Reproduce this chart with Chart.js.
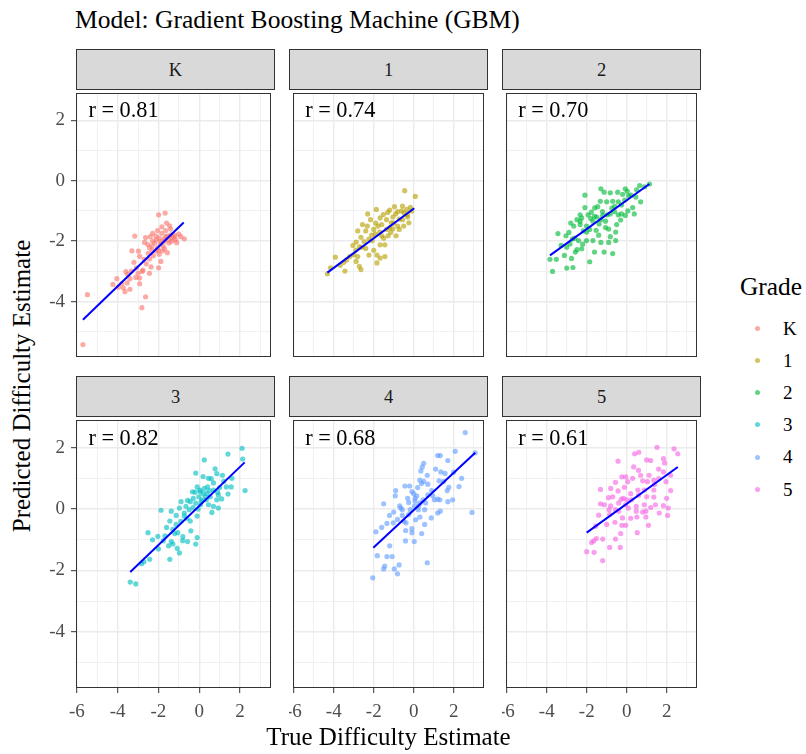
<!DOCTYPE html>
<html>
<head>
<meta charset="utf-8">
<script src="https://cdn.jsdelivr.net/npm/chart.js@4/dist/chart.umd.min.js"></script>
<style>
  body { margin: 0; background: #fff; width: 806px; height: 754px; position: relative; overflow: hidden;
         font-family: "Liberation Serif", "Times New Roman", serif; }
  canvas { position: absolute; }
  .t { position: absolute; white-space: nowrap; }
  .strip { position: absolute; box-sizing: border-box; border: 1px solid #333; background: #d9d9d9; }
  .dot { position: absolute; width: 5px; height: 5px; border-radius: 50%; }
</style>
</head>
<body>
<script>
// ---- data ----
const grades  = ['K', '1', '2', '3', '4', '5'];
const rLabels = ['r = 0.81', 'r = 0.74', 'r = 0.70', 'r = 0.82', 'r = 0.68', 'r = 0.61'];
const xTicks  = [-6, -5, -4, -3, -2, -1, 0, 1, 2, 3];
const yTicks  = [-5, -4, -3, -2, -1, 0, 1, 2];

const ptsK = [[-1.99,-1.13],[-1.67,-1.07],[-1.45,-1.49],[-0.73,-1.92],[-1.0,-1.77],[-3.16,-1.83],[-2.63,-1.88],[-2.28,-1.74],
  [-2.12,-1.83],[-1.83,-1.74],[-1.64,-1.85],[-1.32,-1.90],[-1.16,-1.95],[-1.48,-2.06],[-1.88,-2.01],[-2.52,-2.11],[-2.31,-2.16],
  [-2.04,-2.22],[-1.8,-2.32],[-1.56,-2.38],[-1.96,-2.43],[-2.25,-2.48],[-3.30,-2.32],[-2.98,-2.33],[-2.92,-2.50],[-2.44,-2.59],
  [-2.6,-2.75],[-2.36,-2.85],[-1.99,-2.88],[-1.88,-2.67],[-3.08,-2.88],[-2.76,-2.96],[-2.44,-3.06],[-3.59,-3.01],[-3.32,-2.99],
  [-3.0,-3.06],[-3.11,-3.2],[-2.92,-3.22],[-3.4,-3.24],[-4.04,-3.24],[-4.23,-3.43],[-3.96,-3.52],[-3.72,-3.54],[-3.53,-3.38],
  [-2.92,-3.41],[-3.40,-3.59],[-3.64,-3.67],[-2.63,-3.84],[-2.81,-4.2],[-5.48,-3.77],[-5.70,-5.42],[-2.18,-2.06],[-1.72,-1.93],
  [-1.4,-1.79],[-1.24,-1.86],[-1.96,-1.9],[-2.44,-2.22],[-1.77,-2.16],[-2.12,-2.32],[-1.64,-1.65],[-1.83,-1.53],[-1.56,-1.83],
  [-2.28,-2.0],[-2.68,-2.04],[-2.04,-1.65],[-2.1,-1.95],[-1.9,-2.1],[-1.7,-2.0],[-1.5,-1.95],[-1.35,-2.0],[-1.2,-1.8],
  [-1.1,-2.05],[-0.9,-1.85],[-2.0,-2.3],[-1.7,-2.25],[-2.3,-2.3],[-2.5,-2.4],[-2.7,-2.6],[-3.2,-2.7],[-3.5,-3.1],[-3.8,-3.4],
  [-2.8,-3.0],[-1.6,-1.4],[-1.4,-1.6],[-2.4,-1.85]];
const pts1 = [[-0.45,-0.33],[0.08,-0.52],[-1.87,-0.95],[-0.96,-0.86],[-0.56,-0.84],[-0.16,-0.88],[-1.2,-0.97],[-0.8,-1.02],
  [-0.48,-1.07],[-0.24,-1.39],[-1.68,-1.23],[-1.36,-1.29],[-1.04,-1.2],[-0.72,-1.27],[-1.6,-1.45],[-2.56,-1.45],[-2.32,-1.5],
  [-2.8,-1.66],[-2.4,-1.66],[-2.0,-1.61],[-1.36,-1.61],[-1.04,-1.59],[-0.72,-1.61],[-1.92,-1.77],[-1.6,-1.82],[-1.28,-1.82],
  [-0.88,-1.82],[-2.64,-1.87],[-2.24,-1.93],[-2.88,-2.03],[-2.48,-2.01],[-2.08,-1.98],[-1.68,-2.12],[-1.44,-2.12],[-3.04,-2.14],
  [-2.72,-2.19],[-2.4,-2.24],[-2.24,-2.46],[-1.84,-2.46],[-1.44,-2.51],[-1.68,-2.56],[-3.2,-2.51],[-2.8,-2.51],[-3.36,-2.62],
  [-2.88,-2.67],[-2.72,-2.83],[-1.84,-2.72],[-3.92,-2.53],[-2.64,-2.94],[-3.44,-2.99],[-4.16,-2.88],[-3.68,-2.8],[-1.12,-1.39],
  [-0.56,-1.29],[-0.32,-1.13],[-1.52,-1.12],[-2.16,-1.29],[-1.79,-1.5],[-1.15,-1.71],[-4.32,-3.08],[-0.9,-1.1],[-0.6,-1.0],
  [-0.35,-0.95],[-0.1,-1.0],[-1.3,-1.05],[-1.0,-1.4],[-0.8,-1.5],[-1.7,-1.7],[-2.1,-1.8],[-2.6,-2.2],[-2.9,-2.3],[-1.2,-1.55],
  [-0.5,-1.5],[-0.3,-1.2],[-1.9,-1.4],[-2.3,-1.1],[-3.0,-2.45],[-3.5,-2.7],[-2.0,-2.3],[-1.5,-1.9]];
const pts2 = [[1.14,-0.11],[0.65,-0.16],[-0.07,-0.27],[0.03,-0.35],[-1.29,-0.27],[-1.13,-0.38],[-0.82,-0.40],[-0.45,-0.38],
  [-2.09,-0.48],[-1.32,-0.68],[-0.70,-0.68],[-0.42,-0.70],[-0.26,-0.80],[0.3,-0.89],[0.06,-1.0],[0.38,-1.1],[-0.07,-1.15],
  [-0.42,-1.13],[-0.74,-0.91],[-0.82,-1.1],[-1.45,-0.86],[-2.09,-0.89],[-1.77,-1.04],[-1.21,-1.02],[-1.61,-1.18],[-1.29,-1.29],
  [-0.97,-1.13],[-2.33,-1.13],[-2.49,-1.29],[-2.25,-1.23],[-2.65,-1.5],[-2.33,-1.45],[-2.01,-1.5],[-1.69,-1.34],[-1.38,-1.43],
  [-1.06,-1.55],[-0.5,-1.45],[-1.85,-1.61],[-1.53,-1.64],[-2.17,-1.66],[-2.89,-1.71],[-3.44,-1.75],[-3.04,-1.82],[-2.72,-1.93],
  [-2.41,-1.98],[-2.01,-1.98],[-1.69,-1.98],[-1.29,-2.04],[-0.82,-1.85],[-0.9,-2.04],[-0.55,-1.98],[-3.28,-2.14],[-2.84,-2.09],
  [-2.49,-2.28],[-2.25,-2.25],[-2.57,-2.36],[-1.61,-2.36],[-1.13,-2.36],[-0.70,-2.41],[-3.12,-2.47],[-3.52,-2.6],[-2.76,-2.57],
  [-1.85,-2.68],[-3.84,-2.6],[-3.0,-2.89],[-2.69,-2.87],[-3.71,-3.0],[-1.93,-1.13],[-1.06,-1.34],[-0.61,-1.02],[-0.26,-1.1],
  [-2.33,-1.34],[-0.1,-0.64],[0.22,-0.48],[0.46,-0.54],[-1.6,-0.9],[-1.0,-0.7],[-0.6,-0.85],[0.1,-0.5],[0.5,-0.3],[0.9,-0.2],
  [-0.3,-1.3],[-1.8,-1.25],[-2.0,-1.7],[-1.4,-1.8],[-0.9,-1.6],[-2.6,-1.9],[-3.0,-2.2],[-2.2,-2.1],[-1.2,-1.15],[-0.2,-0.45],
  [0.7,-0.7],[-0.55,-1.7],[-1.5,-1.2],[-2.8,-1.4]];
const pts3 = [[2.1,1.98],[2.13,1.63],[2.25,0.6],[1.41,1.79],[0.25,1.6],[-0.17,1.17],[0.19,1.06],[0.78,1.31],[0.86,1.15],
  [1.14,1.1],[0.59,0.99],[-0.10,0.72],[0.25,0.67],[0.06,0.56],[0.38,0.51],[0.70,0.62],[1.33,0.72],[1.57,0.72],[1.41,0.49],
  [0.94,0.46],[0.54,0.4],[-0.02,0.4],[-0.29,0.35],[-0.57,0.28],[-0.44,0.24],[-0.17,0.19],[0.06,0.14],[0.46,0.14],[0.70,0.09],
  [0.94,0.03],[0.62,-0.11],[-0.89,0.24],[-0.65,0.09],[-0.49,-0.02],[-0.10,-0.23],[-0.97,0.03],[-1.87,-0.04],[-1.37,-0.07],
  [-1.13,-0.21],[-0.73,-0.23],[-0.44,-0.39],[-1.44,-0.39],[-1.13,-0.5],[-1.29,-0.66],[-0.41,-0.71],[-1.05,-0.77],[-2.51,-0.77],
  [-2.03,-0.89],[-1.68,-0.87],[-2.29,-1.0],[-1.76,-1.03],[-1.37,-1.06],[-1.29,-1.14],[-0.81,-1.03],[-0.57,-1.06],[-0.10,-0.93],
  [-0.17,-1.14],[-1.08,-1.28],[-0.97,-1.43],[-2.43,-1.64],[-1.44,-1.64],[-2.71,-1.72],[-2.83,-1.78],[-3.38,-2.38],[-3.11,-2.44],
  [0.03,0.62],[0.3,0.4],[0.14,0.3],[0.86,0.3],[-0.33,0.56],[-0.73,-0.13],[0.41,0.72],[1.10,0.33],[0.2,0.5],[0.5,0.6],
  [0.35,0.3],[0.1,0.25],[-0.3,0.05],[-0.6,-0.3],[-0.9,-0.4],[-1.2,-0.8],[-1.6,-0.6],[-2.0,-1.3],[1.0,0.7],[1.2,0.9],
  [0.7,0.85],[-0.05,0.0],[0.45,1.0],[-0.8,-0.9],[-1.5,-1.2],[1.6,1.0],[0.9,0.55],[-0.2,0.55]];
const pts4 = [[2.58,2.49],[2.08,1.88],[3.08,1.83],[1.2,1.74],[1.33,1.74],[1.71,1.58],[0.5,1.49],[0.43,1.37],[0.36,1.24],
  [0.68,1.1],[1.36,1.21],[1.57,1.16],[0.31,0.94],[0.39,0.83],[0.71,0.81],[1.27,0.92],[1.76,0.71],[1.68,0.6],[2.27,0.73],
  [-0.44,0.75],[-0.09,0.57],[0.15,0.43],[0.07,0.35],[0.47,0.3],[0.96,0.43],[1.2,0.32],[1.31,0.3],[1.95,0.3],[1.71,0.24],
  [-0.92,0.43],[-1.5,0.17],[-0.65,0.03],[-0.25,0.21],[0.04,0.09],[0.31,0.19],[0.55,-0.02],[1.2,-0.13],[1.33,-0.07],[2.92,-0.11],
  [0.88,-0.29],[0.31,-0.26],[-1.21,-0.21],[-1.02,-0.45],[-0.81,-0.34],[-0.57,-0.21],[-1.34,-0.47],[-0.49,-0.4],[-0.38,-0.45],
  [0.55,-0.5],[-0.09,-0.64],[-0.09,-0.77],[-1.89,-0.74],[-0.41,-1.04],[0.03,-1.06],[-1.82,-1.52],[-1.34,-1.55],[-1.08,-1.55],
  [-1.45,-1.86],[-1.5,-1.95],[-0.97,-1.95],[-0.73,-1.82],[-0.81,-2.11],[-2.05,-2.24],[0.68,-1.75],[0.07,0.25],[-0.17,-0.02],
  [0.23,-0.02],[-0.25,-0.18],[-0.57,-0.02],[1.04,0.3],[0.71,0.46],[0.0,0.5],[0.2,0.7],[0.5,0.9],[-0.3,0.35],[-0.7,0.1],
  [-1.0,-0.1],[0.9,0.6],[1.5,0.9],[0.25,0.1],[-0.4,-0.7],[-1.6,-0.6],[0.6,0.2],[1.1,1.3],[2.0,1.2],[-0.2,0.75],[0.1,-0.35],
  [-1.2,-1.2],[2.4,1.0],[0.4,-0.8],[-0.9,0.6]];
const pts5 = [[1.52,2.01],[2.37,1.96],[2.56,1.8],[0.4,1.8],[0.61,1.85],[1.2,1.58],[1.84,1.64],[-0.43,1.56],[0.35,1.37],
  [0.59,1.26],[2.2,1.1],[1.84,1.21],[1.12,1.1],[-0.24,1.05],[-0.05,1.05],[-0.56,0.87],[0.05,0.89],[0.8,0.92],[1.04,0.89],
  [1.36,0.94],[1.6,0.99],[1.97,0.89],[-1.31,0.64],[-0.8,0.67],[-0.43,0.59],[-0.11,0.71],[0.56,0.62],[0.88,0.62],[1.36,0.62],
  [-0.91,0.37],[-0.27,0.32],[-0.16,0.35],[0.24,0.3],[1.36,0.39],[2.0,0.35],[-1.31,0.17],[-1.12,0.14],[-0.88,-0.02],[-0.56,-0.02],
  [-0.05,0.14],[0.08,0.03],[0.48,0.09],[0.88,0.14],[1.44,0.14],[1.84,0.11],[2.08,0.03],[-0.4,-0.07],[0.48,-0.07],[0.96,-0.07],
  [1.63,-0.13],[2.05,-0.21],[-0.85,-0.18],[-0.21,-0.29],[0.51,-0.26],[0.96,-0.26],[-0.59,-0.43],[-0.24,-0.53],[-0.05,-0.53],
  [1.09,-0.53],[-1.55,-0.56],[0.53,-0.77],[-1.76,-1.09],[-1.65,-1.04],[-1.52,-0.96],[-1.2,-0.98],[-0.56,-0.98],[-0.85,-1.25],
  [-0.32,-1.25],[-2.0,-1.39],[-1.63,-1.41],[-1.2,-1.68],[0.2,0.5],[0.6,0.45],[1.0,0.4],[1.4,0.8],[0.0,0.3],[-0.4,0.2],
  [-0.7,0.4],[0.3,1.0],[0.7,1.1],[1.6,1.3],[2.2,0.6],[-1.0,-0.5],[-0.3,-0.8],[0.8,-0.1],[1.2,0.05],[-1.4,-0.2],[1.9,1.5],
  [0.2,-0.3],[-0.8,0.1],[1.0,1.6]];

// fitted line end points (x, y)
const fitK = [[-5.70, -4.60], [-0.76, -1.38]];
const fit1 = [[-4.32, -3.04], [0.03, -0.91]];
const fit2 = [[-3.84, -2.47], [1.14, -0.11]];
const fit3 = [[-3.38, -2.05], [2.23, 1.52]];
const fit4 = [[-2.02, -1.26], [3.08, 1.83]];
const fit5 = [[-2.00, -0.77], [2.56, 1.37]];

const points = [ptsK, pts1, pts2, pts3, pts4, pts5];
const fits   = [fitK, fit1, fit2, fit3, fit4, fit5];

// ---- look ----
const colors = ['248,118,109', '183,159,0', '0,186,56', '0,191,196', '97,156,255', '245,100,227'];
const X_MIN = -6.04, X_MAX = 3.52, Y_MIN = -5.83, Y_MAX = 2.90;
const R_POS = [-5.43, 2.1];
const colLeft = [76, 289, 502], rowTop = [89, 416];
const panelW = 199, panelH = 272, stripH = 40;
const FONT = 'Liberation Serif';
const SMALL = 19;

function addText(txt, x, base, size, opt = {}) {
  const d = document.createElement('div');
  d.className = 't';
  d.textContent = txt;
  d.style.fontSize = size + 'px';
  d.style.lineHeight = size + 'px';
  d.style.top = (base - 0.8375 * size) + 'px';
  d.style.left = x + 'px';
  d.style.color = opt.color || '#000';
  if (opt.center) d.style.transform = 'translateX(-50%)';
  document.body.appendChild(d);
  return d;
}

const panelDeco = {
  id: 'panelDeco',
  afterDraw(chart, args, opts) {
    const { ctx, chartArea: a, scales } = chart;
    ctx.save();
    ctx.fillStyle = '#000';
    ctx.font = `22.3px "${FONT}"`;
    ctx.textAlign = 'left';
    ctx.textBaseline = 'alphabetic';
    ctx.fillText(opts.label, scales.x.getPixelForValue(R_POS[0]), scales.y.getPixelForValue(R_POS[1]));
    ctx.strokeStyle = '#333';
    ctx.lineWidth = 1;
    ctx.strokeRect(a.left + 0.5, a.top + 0.5, a.right - a.left - 1, a.bottom - a.top - 1);
    ctx.restore();
  }
};

const isMajor = c => Math.abs(c.tick.value) % 2 === 0;
function gridOpts(show) {
  return {
    color: '#EBEBEB',
    lineWidth: c => isMajor(c) ? 1.4 : 0.7,
    drawTicks: show,
    tickLength: 5,
    tickWidth: 1,
    tickColor: c => isMajor(c) ? '#333' : 'rgba(0,0,0,0)'
  };
}

grades.forEach((g, i) => {
  const row = Math.floor(i / 3), col = i % 3;
  const showX = row === 1, showY = col === 0;
  const yW = showY ? 40 : 0, xH = showX ? 40 : 0;

  const strip = document.createElement('div');
  strip.className = 'strip';
  strip.style.left = colLeft[col] + 'px';
  strip.style.top = (rowTop[row] - stripH) + 'px';
  strip.style.width = panelW + 'px';
  strip.style.height = (stripH + 1) + 'px';
  document.body.appendChild(strip);
  addText(g, colLeft[col] + panelW / 2, rowTop[row] - stripH + 27.5, 18.5, { center: true, color: '#1A1A1A' });

  const cv = document.createElement('canvas');
  cv.width = panelW + yW;
  cv.height = panelH + xH;
  cv.style.left = (colLeft[col] - yW) + 'px';
  cv.style.top = rowTop[row] + 'px';
  document.body.appendChild(cv);

  new Chart(cv, {
    type: 'scatter',
    data: {
      datasets: [
        {
          type: 'line',
          data: fits[i].map(([x, y]) => ({ x, y })),
          borderColor: '#0000FF',
          borderWidth: 2,
          pointRadius: 0,
          order: 0
        },
        {
          data: points[i].map(([x, y]) => ({ x, y })),
          backgroundColor: `rgba(${colors[i]},0.62)`,
          pointRadius: 2.6,
          borderWidth: 0,
          order: 1
        }
      ]
    },
    options: {
      responsive: false,
      animation: false,
      layout: { padding: 0 },
      plugins: { legend: { display: false }, tooltip: { enabled: false }, panelDeco: { label: rLabels[i] } },
      scales: {
        x: {
          type: 'linear', min: X_MIN, max: X_MAX,
          afterBuildTicks: s => { s.ticks = xTicks.map(v => ({ value: v })); },
          afterFit: s => { s.height = xH; s.paddingLeft = 0; s.paddingRight = 0; },
          ticks: {
            display: showX, autoSkip: false, maxRotation: 0, padding: 8,
            color: '#4D4D4D', font: { family: FONT, size: SMALL },
            callback: v => (v % 2 === 0 ? String(v) : '')
          },
          grid: gridOpts(showX),
          border: { display: false }
        },
        y: {
          type: 'linear', min: Y_MIN, max: Y_MAX,
          afterBuildTicks: s => { s.ticks = yTicks.map(v => ({ value: v })); },
          afterFit: s => { s.width = yW; s.paddingTop = 0; s.paddingBottom = 0; },
          ticks: {
            display: showY, autoSkip: false, padding: 6,
            color: '#4D4D4D', font: { family: FONT, size: SMALL },
            callback: v => (v % 2 === 0 ? String(v) : '')
          },
          grid: gridOpts(showY),
          border: { display: false }
        }
      }
    },
    plugins: [panelDeco]
  });
});

// titles
addText('Model: Gradient Boosting Machine (GBM)', 75, 28.3, 25.5);
addText('True Difficulty Estimate', 388.5, 744.5, 25, { center: true });
const yt = document.createElement('div');
yt.className = 't';
yt.textContent = 'Predicted Difficulty Estimate';
yt.style.fontSize = '25px';
yt.style.lineHeight = '25px';
yt.style.left = '21.2px';
yt.style.top = '386px';
yt.style.transform = 'translate(-50%,-50%) rotate(-90deg)';
document.body.appendChild(yt);

// legend
addText('Grade', 740, 295, 25.4);
const legendY = [328.3, 360.5, 392.7, 424.9, 457.1, 489.3];
grades.forEach((g, i) => {
  const d = document.createElement('div');
  d.className = 'dot';
  d.style.left = (757 - 2.5) + 'px';
  d.style.top = (legendY[i] - 2.5) + 'px';
  d.style.background = `rgba(${colors[i]},0.62)`;
  document.body.appendChild(d);
  addText(g, 783, legendY[i] + 6.2, SMALL);
});
</script>
</body>
</html>
